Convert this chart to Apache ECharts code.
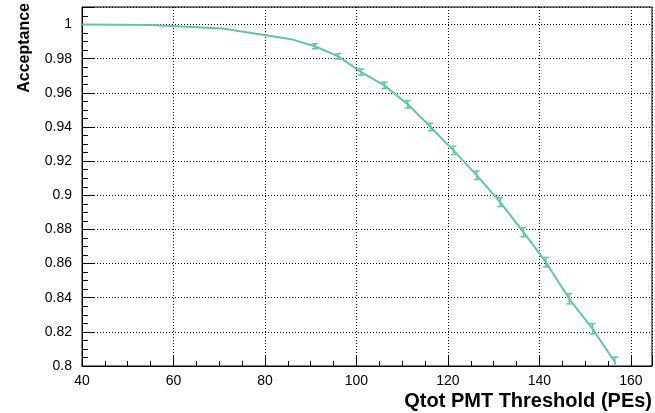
<!DOCTYPE html>
<html>
<head>
<meta charset="utf-8">
<script src="https://cdn.jsdelivr.net/npm/echarts@6/dist/echarts.min.js"></script>
<style>
  html, body { margin: 0; padding: 0; background: #fff; }
  #chart { width: 655px; height: 413px; }
</style>
</head>
<body>
<div id="chart"></div>
<script>
// curve through the measured points (leading part has no visible error bars)
const curveX = [40, 55, 70.8, 86.1];
const curveY = [1.0, 0.9997, 0.9977, 0.9912];

// measured points with error bars
const pointX = [90.9, 96.0, 101.0, 106.1, 111.2, 116.2, 121.2, 126.3, 131.4, 136.5, 141.4, 146.5, 151.6, 156.5];
const pointY = [0.9873, 0.9814, 0.9722, 0.9644, 0.9533, 0.9400, 0.9263, 0.9117, 0.8960, 0.8784, 0.8608, 0.8394, 0.8218, 0.8022];
const pointErr = [0.0015, 0.0016, 0.0018, 0.0019, 0.0021, 0.0022, 0.0024, 0.0025, 0.0026, 0.0027, 0.0028, 0.003, 0.003, 0.003];

const xTicks = { min: 40, max: 164.6, step: 20 };
const yTicks = { min: 0.8, max: 1.0103, step: 0.02 };

const lineColor = "#62c6a1";

let chart = echarts.init(document.getElementById("chart"));

let lineData = curveX.map((x, i) => [x, curveY[i]]).concat(pointX.map((x, i) => [x, pointY[i]]));
let errData = pointX.map((x, i) => [x, pointY[i], pointErr[i]]);

function onStep(v, step) {
  let r = v / step;
  return Math.abs(r - Math.round(r)) < 1e-6;
}

let options = {
  animation: false,
  backgroundColor: "#fff",
  grid: {
    left: 82,
    right: 3,
    top: 7,
    bottom: 47,
    show: true,
    borderColor: "#000",
    borderWidth: 1,
  },
  xAxis: {
    type: "value",
    min: xTicks.min,
    max: xTicks.max,
    interval: xTicks.step,
    axisLine: { show: true, lineStyle: { color: "#000", width: 1 } },
    axisTick: { show: true, inside: true, length: 10, lineStyle: { color: "#000" } },
    minorTick: { show: true, splitNumber: 4, length: 5, lineStyle: { color: "#000" } },
    axisLabel: {
      color: "#000",
      fontFamily: "Liberation Sans",
      fontSize: 14,
      margin: 8,
      formatter: (v) => (onStep(v, xTicks.step) ? String(v) : ""),
    },
    splitLine: { show: true, lineStyle: { color: "#000", type: [1, 2], width: 1 } },
  },
  yAxis: {
    type: "value",
    min: yTicks.min,
    max: yTicks.max,
    interval: yTicks.step,
    axisLine: { show: true, lineStyle: { color: "#000", width: 1 } },
    axisTick: { show: true, inside: true, length: 12, lineStyle: { color: "#000" } },
    minorTick: { show: true, splitNumber: 4, length: 6, lineStyle: { color: "#000" } },
    axisLabel: {
      color: "#000",
      fontFamily: "Liberation Sans",
      fontSize: 14,
      margin: 10,
      formatter: (v) => (onStep(v, yTicks.step) ? String(+v.toFixed(2)) : ""),
    },
    splitLine: { show: true, lineStyle: { color: "#000", type: [1, 2], width: 1 } },
  },
  graphic: [
    {
      type: "text",
      right: 3,
      top: 391,
      style: {
        text: "Qtot PMT Threshold (PEs)",
        font: "bold 20px 'Liberation Sans'",
        fill: "#000",
      },
    },
    {
      type: "text",
      x: 33,
      y: 3,
      rotation: Math.PI / 2,
      style: {
        text: "Acceptance",
        font: "bold 16px 'Liberation Sans'",
        fill: "#000",
        align: "right",
        verticalAlign: "bottom",
      },
    },
  ],
  series: [
    {
      type: "line",
      data: lineData,
      showSymbol: false,
      smooth: false,
      clip: true,
      lineStyle: { color: lineColor, width: 2 },
      z: 3,
    },
    {
      type: "custom",
      data: errData,
      clip: true,
      z: 4,
      renderItem: function (params, api) {
        let x = api.value(0);
        let y = api.value(1);
        let e = api.value(2);
        let top = api.coord([x, y + e]);
        let bot = api.coord([x, y - e]);
        let hw = 3;
        let style = { stroke: lineColor, lineWidth: 1.5 };
        return {
          type: "group",
          children: [
            { type: "line", shape: { x1: top[0], y1: top[1], x2: bot[0], y2: bot[1] }, style: style },
            { type: "line", shape: { x1: top[0] - hw, y1: top[1], x2: top[0] + hw, y2: top[1] }, style: style },
            { type: "line", shape: { x1: bot[0] - hw, y1: bot[1], x2: bot[0] + hw, y2: bot[1] }, style: style },
          ],
        };
      },
    },
  ],
};

chart.setOption(options);
</script>
</body>
</html>
